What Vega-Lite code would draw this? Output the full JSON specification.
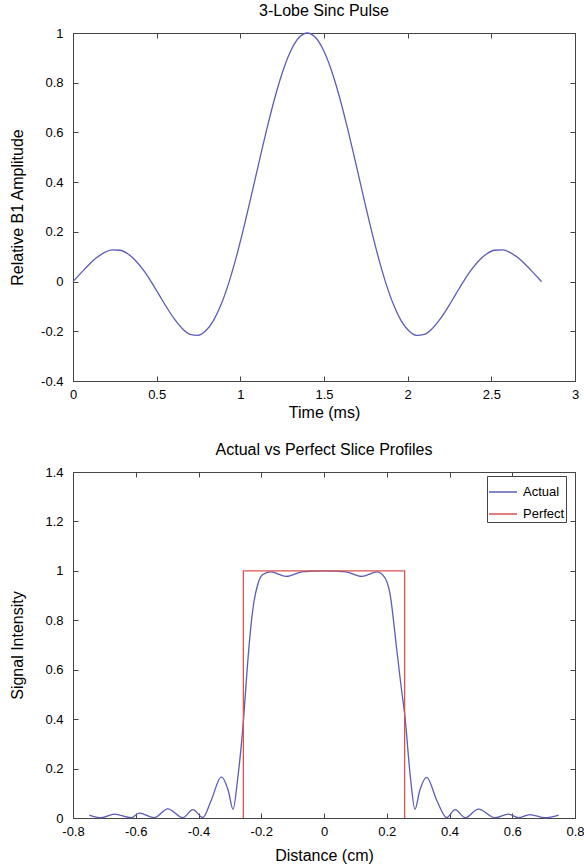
{
  "$schema": "https://vega.github.io/schema/vega-lite/v6.json",
  "padding": {"left": 9, "top": 2, "right": 5, "bottom": 2},
  "spacing": 20,
  "resolve": {"legend": {"color": "independent"}},
  "config": {
    "font": "Liberation Sans",
    "view": {"stroke": "#444", "strokeWidth": 1},
    "axis": {"grid": false, "domainColor": "#444", "tickColor": "#444", "tickSize": -5, "labelFontSize": 13, "labelColor": "#000", "titleFontSize": 16, "titleFontWeight": "normal", "titleColor": "#000", "labelPadding": 12, "titlePadding": 4, "labelFlush": false, "labelOverlap": false},
    "axisY": {"labelPadding": 15, "titlePadding": 15},
    "title": {"fontSize": 16, "fontWeight": "normal", "color": "#000", "offset": 8},
    "legend": {"orient": "none", "legendX": 414, "legendY": 4, "strokeColor": "#444", "fillColor": "#fff", "padding": 1, "symbolType": "stroke", "symbolSize": 784, "symbolStrokeWidth": 1.5, "labelFontSize": 13, "labelColor": "#000", "labelOffset": 5, "rowPadding": -10, "title": null}
  },
  "vconcat": [
    {
      "title": "3-Lobe Sinc Pulse",
      "width": 502,
      "height": 348,
      "data": {"values": [
        {"t": 0, "amp": 0}, {"t": 0.0467, "amp": 0.0339}, {"t": 0.0933, "amp": 0.0668}, {"t": 0.14, "amp": 0.0954},
        {"t": 0.1867, "amp": 0.1164}, {"t": 0.2333, "amp": 0.1273}, {"t": 0.28, "amp": 0.1261}, {"t": 0.3267, "amp": 0.112},
        {"t": 0.3733, "amp": 0.085}, {"t": 0.42, "amp": 0.0468}, {"t": 0.4667, "amp": 0}, {"t": 0.5133, "amp": -0.0518},
        {"t": 0.56, "amp": -0.1039}, {"t": 0.6067, "amp": -0.1515}, {"t": 0.6533, "amp": -0.1892}, {"t": 0.7, "amp": -0.2122},
        {"t": 0.7467, "amp": -0.2162}, {"t": 0.7933, "amp": -0.1981}, {"t": 0.84, "amp": -0.1559}, {"t": 0.8867, "amp": -0.0894},
        {"t": 0.9333, "amp": 0}, {"t": 0.98, "amp": 0.1093}, {"t": 1.0267, "amp": 0.2339}, {"t": 1.0733, "amp": 0.3679},
        {"t": 1.12, "amp": 0.5046}, {"t": 1.1667, "amp": 0.6366}, {"t": 1.2133, "amp": 0.7568}, {"t": 1.26, "amp": 0.8584},
        {"t": 1.3067, "amp": 0.9355}, {"t": 1.3533, "amp": 0.9836}, {"t": 1.4, "amp": 1},
        {"t": 1.4467, "amp": 0.9836}, {"t": 1.4933, "amp": 0.9355}, {"t": 1.54, "amp": 0.8584}, {"t": 1.5867, "amp": 0.7568},
        {"t": 1.6333, "amp": 0.6366}, {"t": 1.68, "amp": 0.5046}, {"t": 1.7267, "amp": 0.3679}, {"t": 1.7733, "amp": 0.2339},
        {"t": 1.82, "amp": 0.1093}, {"t": 1.8667, "amp": 0}, {"t": 1.9133, "amp": -0.0894}, {"t": 1.96, "amp": -0.1559},
        {"t": 2.0067, "amp": -0.1981}, {"t": 2.0533, "amp": -0.2162}, {"t": 2.1, "amp": -0.2122}, {"t": 2.1467, "amp": -0.1892},
        {"t": 2.1933, "amp": -0.1515}, {"t": 2.24, "amp": -0.1039}, {"t": 2.2867, "amp": -0.0518}, {"t": 2.3333, "amp": 0},
        {"t": 2.38, "amp": 0.0468}, {"t": 2.4267, "amp": 0.085}, {"t": 2.4733, "amp": 0.112}, {"t": 2.52, "amp": 0.1261},
        {"t": 2.5667, "amp": 0.1273}, {"t": 2.6133, "amp": 0.1164}, {"t": 2.66, "amp": 0.0954}, {"t": 2.7067, "amp": 0.0668},
        {"t": 2.7533, "amp": 0.0339}, {"t": 2.8, "amp": 0}
      ]},
      "layer": [
        {
          "mark": {"type": "line", "color": "#5c5cb8", "strokeWidth": 1.3, "interpolate": "monotone"},
          "encoding": {
            "x": {"field": "t", "type": "quantitative", "scale": {"domain": [0, 3], "nice": false, "zero": false},
                  "axis": {"title": "Time (ms)", "titlePadding": 3, "values": [0, 0.5, 1, 1.5, 2, 2.5, 3], "labelExpr": "replace(format(datum.value, '~f'), '\u2212', '-')"}},
            "y": {"field": "amp", "type": "quantitative", "scale": {"domain": [-0.4, 1], "nice": false, "zero": false},
                  "axis": {"title": "Relative B1 Amplitude", "values": [-0.4, -0.2, 0, 0.2, 0.4, 0.6, 0.8, 1], "labelExpr": "replace(format(datum.value, '~f'), '\u2212', '-')"}}
          }
        },
        {
          "mark": {"type": "line", "opacity": 0},
          "encoding": {
            "x": {"field": "t", "type": "quantitative", "axis": {"orient": "top", "labels": false, "title": null, "domain": false, "values": [0, 0.5, 1, 1.5, 2, 2.5, 3]}},
            "y": {"field": "amp", "type": "quantitative", "axis": {"orient": "right", "labels": false, "title": null, "domain": false, "values": [-0.4, -0.2, 0, 0.2, 0.4, 0.6, 0.8, 1]}}
          }
        }
      ],
      "resolve": {"axis": {"x": "independent", "y": "independent"}}
    },
    {
      "title": "Actual vs Perfect Slice Profiles",
      "width": 502,
      "height": 346,
      "data": {"values": [
        {"x": -0.748, "y": 0.012, "series": "Actual", "i": 1},
        {"x": -0.71, "y": 0.001, "series": "Actual", "i": 2},
        {"x": -0.668, "y": 0.016, "series": "Actual", "i": 3},
        {"x": -0.615, "y": 0.001, "series": "Actual", "i": 4},
        {"x": -0.589, "y": 0.02, "series": "Actual", "i": 5},
        {"x": -0.541, "y": 0.001, "series": "Actual", "i": 6},
        {"x": -0.498, "y": 0.037, "series": "Actual", "i": 7},
        {"x": -0.45, "y": 0.001, "series": "Actual", "i": 8},
        {"x": -0.418, "y": 0.034, "series": "Actual", "i": 9},
        {"x": -0.386, "y": 0.002, "series": "Actual", "i": 10},
        {"x": -0.36, "y": 0.07, "series": "Actual", "i": 11},
        {"x": -0.327, "y": 0.166, "series": "Actual", "i": 12},
        {"x": -0.305, "y": 0.11, "series": "Actual", "i": 13},
        {"x": -0.29, "y": 0.035, "series": "Actual", "i": 14},
        {"x": -0.275, "y": 0.16, "series": "Actual", "i": 15},
        {"x": -0.257, "y": 0.39, "series": "Actual", "i": 16},
        {"x": -0.245, "y": 0.6, "series": "Actual", "i": 17},
        {"x": -0.235, "y": 0.75, "series": "Actual", "i": 18},
        {"x": -0.225, "y": 0.86, "series": "Actual", "i": 19},
        {"x": -0.21, "y": 0.95, "series": "Actual", "i": 20},
        {"x": -0.195, "y": 0.985, "series": "Actual", "i": 21},
        {"x": -0.17, "y": 0.996, "series": "Actual", "i": 22},
        {"x": -0.12, "y": 0.978, "series": "Actual", "i": 23},
        {"x": -0.07, "y": 0.996, "series": "Actual", "i": 24},
        {"x": 0, "y": 1.0, "series": "Actual", "i": 25},
        {"x": 0.07, "y": 0.996, "series": "Actual", "i": 26},
        {"x": 0.12, "y": 0.978, "series": "Actual", "i": 27},
        {"x": 0.17, "y": 0.996, "series": "Actual", "i": 28},
        {"x": 0.195, "y": 0.97, "series": "Actual", "i": 29},
        {"x": 0.21, "y": 0.91, "series": "Actual", "i": 30},
        {"x": 0.232, "y": 0.68, "series": "Actual", "i": 31},
        {"x": 0.245, "y": 0.54, "series": "Actual", "i": 32},
        {"x": 0.258, "y": 0.41, "series": "Actual", "i": 33},
        {"x": 0.275, "y": 0.17, "series": "Actual", "i": 34},
        {"x": 0.29, "y": 0.035, "series": "Actual", "i": 35},
        {"x": 0.305, "y": 0.11, "series": "Actual", "i": 36},
        {"x": 0.327, "y": 0.164, "series": "Actual", "i": 37},
        {"x": 0.36, "y": 0.07, "series": "Actual", "i": 38},
        {"x": 0.391, "y": 0.002, "series": "Actual", "i": 39},
        {"x": 0.418, "y": 0.034, "series": "Actual", "i": 40},
        {"x": 0.45, "y": 0.001, "series": "Actual", "i": 41},
        {"x": 0.492, "y": 0.036, "series": "Actual", "i": 42},
        {"x": 0.546, "y": 0.001, "series": "Actual", "i": 43},
        {"x": 0.588, "y": 0.016, "series": "Actual", "i": 44},
        {"x": 0.62, "y": 0.001, "series": "Actual", "i": 45},
        {"x": 0.656, "y": 0.014, "series": "Actual", "i": 46},
        {"x": 0.704, "y": 0.001, "series": "Actual", "i": 47},
        {"x": 0.748, "y": 0.012, "series": "Actual", "i": 48},
        {"x": -0.257, "y": 0, "series": "Perfect", "i": 1},
        {"x": -0.257, "y": 1, "series": "Perfect", "i": 2},
        {"x": 0.257, "y": 1, "series": "Perfect", "i": 3},
        {"x": 0.257, "y": 0, "series": "Perfect", "i": 4}
      ]},
      "layer": [
        {
          "mark": {"type": "line", "strokeWidth": 1.3, "interpolate": "monotone"},
          "encoding": {
            "x": {"field": "x", "type": "quantitative", "scale": {"domain": [-0.8, 0.8], "nice": false, "zero": false},
                  "axis": {"title": "Distance (cm)", "titlePadding": 9, "values": [-0.8, -0.6, -0.4, -0.2, 0, 0.2, 0.4, 0.6, 0.8], "labelExpr": "replace(format(datum.value, '~f'), '\u2212', '-')"}},
            "y": {"field": "y", "type": "quantitative", "scale": {"domain": [0, 1.4], "nice": false, "zero": false},
                  "axis": {"title": "Signal Intensity", "titlePadding": 19, "values": [0, 0.2, 0.4, 0.6, 0.8, 1, 1.2, 1.4], "labelExpr": "replace(format(datum.value, '~f'), '\u2212', '-')"}},
            "color": {"field": "series", "type": "nominal", "scale": {"domain": ["Actual", "Perfect"], "range": ["#5c5cb8", "#d9534f"]}},
            "order": {"field": "i", "type": "quantitative"}
          }
        },
        {
          "mark": {"type": "line", "opacity": 0},
          "encoding": {
            "x": {"field": "x", "type": "quantitative", "axis": {"orient": "top", "labels": false, "title": null, "domain": false, "values": [-0.8, -0.6, -0.4, -0.2, 0, 0.2, 0.4, 0.6, 0.8]}},
            "y": {"field": "y", "type": "quantitative", "axis": {"orient": "right", "labels": false, "title": null, "domain": false, "values": [0, 0.2, 0.4, 0.6, 0.8, 1, 1.2, 1.4]}}
          }
        }
      ],
      "resolve": {"axis": {"x": "independent", "y": "independent"}}
    }
  ]
}
